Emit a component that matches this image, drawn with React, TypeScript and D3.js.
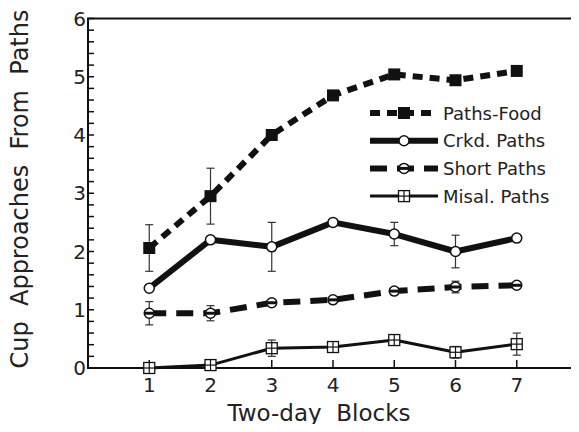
import React, { useEffect, useRef } from 'react';
import * as d3 from 'd3';

// Two-day blocks 1..7
const blocks = [1, 2, 3, 4, 5, 6, 7];

const pathsFood = [2.06, 2.95, 4.0, 4.68, 5.04, 4.94, 5.1];
const pathsFoodErr = [0.4, 0.48, 0, 0, 0, 0, 0];

const crkdPaths = [1.37, 2.2, 2.08, 2.5, 2.3, 2.0, 2.23];
const crkdPathsErr = [0, 0, 0.42, 0, 0.2, 0.28, 0];

const shortPaths = [0.94, 0.94, 1.12, 1.17, 1.32, 1.39, 1.42];
const shortPathsErr = [0.2, 0.13, 0, 0, 0, 0.1, 0];

const misalPaths = [0, 0.05, 0.34, 0.36, 0.48, 0.27, 0.41];
const misalPathsErr = [0, 0, 0.14, 0, 0, 0.1, 0.19];

const seriesNames = ['Paths-Food', 'Crkd. Paths', 'Short Paths', 'Misal. Paths'];
const yTicks = [0, 1, 2, 3, 4, 5, 6];

const FONT = '"DejaVu Sans", sans-serif';

const App = () => {
  const svgRef = useRef(null);

  useEffect(() => {
    const W = 579;
    const H = 432;
    const svg = d3.select(svgRef.current).attr('width', W).attr('height', H).html('');
    svg.append('rect').attr('width', W).attr('height', H).attr('fill', '#fff');

    const x = d3.scaleLinear().domain([0, 8]).range([88, 578]);
    const y = d3.scaleLinear().domain([0, 6]).range([368, 18.5]);

    const series = [
      { name: seriesNames[0], vals: pathsFood, err: pathsFoodErr, width: 6, dash: '10,7', marker: 'fsquare' },
      { name: seriesNames[1], vals: crkdPaths, err: crkdPathsErr, width: 6, dash: null, marker: 'ocircle' },
      { name: seriesNames[2], vals: shortPaths, err: shortPathsErr, width: 6, dash: '17,10', marker: 'lcircle' },
      { name: seriesNames[3], vals: misalPaths, err: misalPathsErr, width: 3, dash: null, marker: 'xsquare' },
    ];

    // frame
    svg.append('rect')
      .attr('x', x(0)).attr('y', y(6))
      .attr('width', x(8) - x(0)).attr('height', y(0) - y(6))
      .attr('fill', 'none').attr('stroke', '#111').attr('stroke-width', 2);

    // y axis: minor ticks every 0.2, pointing inward
    const minor = d3.range(0, 6.01, 0.2);
    svg.append('g').selectAll('line').data(minor).join('line')
      .attr('x1', x(0)).attr('x2', x(0) + 6)
      .attr('y1', d => y(d)).attr('y2', d => y(d))
      .attr('stroke', '#111').attr('stroke-width', 1.5);

    svg.append('g').selectAll('text').data(yTicks).join('text')
      .attr('x', x(0) - 2).attr('y', d => y(d) + 7)
      .attr('text-anchor', 'end')
      .attr('font-family', FONT).attr('font-size', 20).attr('fill', '#222')
      .text(d => d);

    // x axis
    svg.append('g').selectAll('line').data(blocks).join('line')
      .attr('x1', d => x(d)).attr('x2', d => x(d))
      .attr('y1', y(0)).attr('y2', y(0) - 8)
      .attr('stroke', '#111').attr('stroke-width', 1.5);

    svg.append('g').selectAll('text').data(blocks).join('text')
      .attr('x', d => x(d)).attr('y', y(0) + 24)
      .attr('text-anchor', 'middle')
      .attr('font-family', FONT).attr('font-size', 20).attr('fill', '#222')
      .text(d => d);

    svg.append('text')
      .attr('x', 319).attr('y', 421)
      .attr('text-anchor', 'middle')
      .style('white-space', 'pre')
      .attr('font-family', FONT).attr('font-size', 23).attr('fill', '#222')
      .text('Two-day  Blocks');

    svg.append('text')
      .attr('transform', `translate(28,189) rotate(-90)`)
      .attr('text-anchor', 'middle')
      .style('white-space', 'pre')
      .attr('font-family', FONT).attr('font-size', 24).attr('fill', '#222')
      .text('Cup  Approaches  From  Paths');

    const drawMarker = (g, type, cx, cy) => {
      if (type === 'fsquare') {
        g.append('rect').attr('x', cx - 6).attr('y', cy - 6).attr('width', 12).attr('height', 12)
          .attr('fill', '#111');
      } else if (type === 'ocircle') {
        g.append('circle').attr('cx', cx).attr('cy', cy).attr('r', 5)
          .attr('fill', '#fff').attr('stroke', '#111').attr('stroke-width', 1.5);
      } else if (type === 'lcircle') {
        g.append('circle').attr('cx', cx).attr('cy', cy).attr('r', 5)
          .attr('fill', '#fff').attr('stroke', '#111').attr('stroke-width', 1.5);
        g.append('line').attr('x1', cx - 5).attr('x2', cx + 5).attr('y1', cy).attr('y2', cy)
          .attr('stroke', '#111').attr('stroke-width', 3);
      } else if (type === 'xsquare') {
        g.append('rect').attr('x', cx - 5.5).attr('y', cy - 5.5).attr('width', 11).attr('height', 11)
          .attr('fill', '#fff').attr('stroke', '#111').attr('stroke-width', 1.3);
        g.append('line').attr('x1', cx - 5.5).attr('x2', cx + 5.5).attr('y1', cy).attr('y2', cy)
          .attr('stroke', '#111').attr('stroke-width', 1.2);
        g.append('line').attr('x1', cx).attr('x2', cx).attr('y1', cy - 5.5).attr('y2', cy + 5.5)
          .attr('stroke', '#111').attr('stroke-width', 1.2);
      }
    };

    const line = d3.line().x(d => x(d[0])).y(d => y(d[1]));

    series.forEach(s => {
      const g = svg.append('g');
      const pts = blocks.map((b, i) => [b, s.vals[i]]);
      // error bars
      blocks.forEach((b, i) => {
        const e = s.err[i];
        if (!e) return;
        g.append('line').attr('x1', x(b)).attr('x2', x(b))
          .attr('y1', y(s.vals[i] - e)).attr('y2', y(s.vals[i] + e))
          .attr('stroke', '#333').attr('stroke-width', 1.2);
        [s.vals[i] - e, s.vals[i] + e].forEach(v => {
          g.append('line').attr('x1', x(b) - 4).attr('x2', x(b) + 4)
            .attr('y1', y(v)).attr('y2', y(v))
            .attr('stroke', '#333').attr('stroke-width', 1.2);
        });
      });
      g.append('path').datum(pts)
        .attr('d', line)
        .attr('fill', 'none').attr('stroke', '#111')
        .attr('stroke-width', s.width)
        .attr('stroke-linejoin', 'round')
        .attr('stroke-linecap', s.dash ? 'butt' : 'round')
        .attr('stroke-dasharray', s.dash);
      pts.forEach(p => drawMarker(g, s.marker, x(p[0]), y(p[1])));
    });

    // legend
    const lg = svg.append('g');
    series.forEach((s, i) => {
      const cy = 113 + i * 27.7;
      lg.append('line')
        .attr('x1', 370).attr('x2', 438).attr('y1', cy).attr('y2', cy)
        .attr('stroke', '#111').attr('stroke-width', s.width)
        .attr('stroke-dasharray', s.dash);
      drawMarker(lg, s.marker, 404, cy);
      lg.append('text')
        .attr('x', 443).attr('y', cy + 6.5)
        .attr('font-family', FONT).attr('font-size', 18).attr('fill', '#222')
        .text(s.name);
    });
  }, []);

  return <svg ref={svgRef} style={{ display: 'block', margin: -8 }}></svg>;
};

export default App;
